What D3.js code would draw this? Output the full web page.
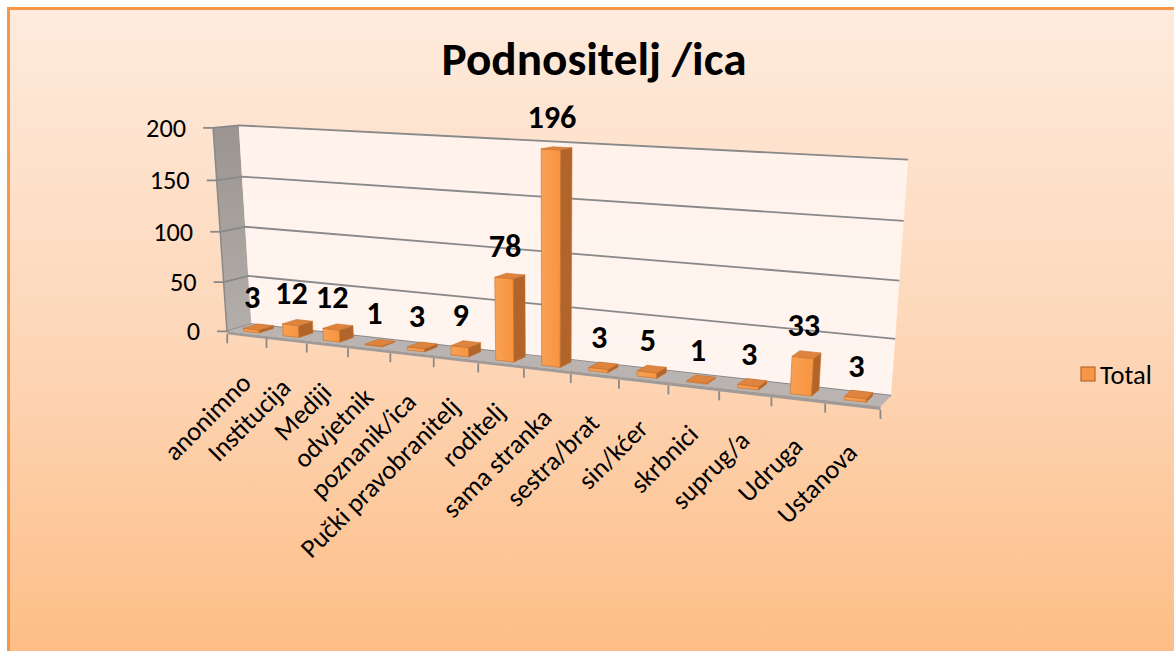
<!DOCTYPE html>
<html><head><meta charset="utf-8">
<script src="https://cdn.jsdelivr.net/npm/d3@7"></script>
<style>html,body{margin:0;padding:0;background:#fff;overflow:hidden}</style>
</head><body>
<svg id="c" width="1174" height="651"></svg>
<script>
// ---------------- data ----------------
const categories = ["anonimno","Institucija","Mediji","odvjetnik","poznanik/ica","Pučki pravobranitelj","roditelj","sama stranka","sestra/brat","sin/kćer","skrbnici","suprug/a","Udruga","Ustanova"];
const values = [3,12,12,1,3,9,78,196,3,5,1,3,33,3];
const yTicks = [0,50,100,150,200];
const seriesName = "Total";
const chartTitle = "Podnositelj /ica";

// ---------------- layout ----------------
const W = 1174, H = 651;
const FONT = "Carlito, Calibri, Lato, 'Open Sans', sans-serif";
// calibration of the 3D box frame: [X, Y, Z] (normalised) -> screen px
const frame = [
  [0,1,1, 240,124],[1,1,1, 908,160],[0,0,1, 252,324],[1,0,1, 889,397],
  [0,1,0, 212,129],[0,0,0, 227,332],[1,0,0, 884,405],[0.5,0,0, 522,365]
];
const CU=560, SU=400, CV=270, SV=200;

function fitCamera(pts){
  const n=11, M=Array.from({length:n},()=>new Array(n).fill(0)), r=new Array(n).fill(0);
  const add=(row,val)=>{for(let i=0;i<n;i++){r[i]+=row[i]*val;for(let j=0;j<n;j++)M[i][j]+=row[i]*row[j];}};
  pts.forEach(([X,Y,Z,u0,v0])=>{
    const u=(u0-CU)/SU, v=(v0-CV)/SV;
    add([X,Y,Z,1,0,0,0,0,-u*X,-u*Y,-u*Z],u);
    add([0,0,0,0,X,Y,Z,1,-v*X,-v*Y,-v*Z],v);
  });
  for(let c=0;c<n;c++){
    let p=c;for(let i=c+1;i<n;i++)if(Math.abs(M[i][c])>Math.abs(M[p][c]))p=i;
    [M[c],M[p]]=[M[p],M[c]];[r[c],r[p]]=[r[p],r[c]];
    for(let i=0;i<n;i++){if(i===c)continue;const f=M[i][c]/M[c][c];for(let j=c;j<n;j++)M[i][j]-=f*M[c][j];r[i]-=f*r[c];}
  }
  return r.map((v,i)=>v/M[i][i]);
}
const P = fitCamera(frame);
function proj(X,Y,Z){
  const d=P[8]*X+P[9]*Y+P[10]*Z+1;
  return [(P[0]*X+P[1]*Y+P[2]*Z+P[3])/d*SU+CU,(P[4]*X+P[5]*Y+P[6]*Z+P[7])/d*SV+CV];
}

const x = d3.scaleBand().domain(categories).range([0,1]).paddingInner(0.6).paddingOuter(0.3);
const y = d3.scaleLinear().domain([0,200]).range([0,1]);
const z0 = 0.2, z1 = 0.8, slab = 0.015;

const svg = d3.select("#c");
const defs = svg.append("defs");
const lg=(id,stops,x2,y2)=>{const g=defs.append("linearGradient").attr("id",id).attr("x1",0).attr("y1",0).attr("x2",x2).attr("y2",y2);stops.forEach(([o,c])=>g.append("stop").attr("offset",o).attr("stop-color",c));};
lg("bg",[["0%","#FEEBDD"],["55%","#FDD5B5"],["100%","#FDBD85"]],0,1);
lg("side",[["0%","#9B9591"],["100%","#B4AEAA"]],0,1);
lg("back",[["0%","#FFF2EB"],["100%","#FFF5F0"]],0,1);
lg("barF",[["0%","#F9A055"],["100%","#F7943F"]],1,0);

svg.append("rect").attr("x",8.5).attr("y",8.5).attr("width",W).attr("height",H)
  .attr("fill","url(#bg)").attr("stroke","#F79646").attr("stroke-width",3);

const line = d3.line();
const poly = pts => line(pts.map(p=>proj(...p)))+"Z";
const fitSize=(txt,weight,target)=>{const t=svg.append("text").attr("font-family",FONT).attr("font-weight",weight).attr("font-size",100).text(txt);const w=t.node().getComputedTextLength();t.remove();return 100*target/w;};
const titleSize = fitSize(chartTitle,"bold",305);
const dataSize = fitSize("196","bold",49);
const catSize = fitSize("Pučki pravobranitelj","normal",213);
const tickSize = fitSize("200","normal",40);

const g = svg.append("g");
// walls
g.append("path").attr("d",poly([[0,0,0],[0,1,0],[0,1,1],[0,0,1]])).attr("fill","url(#side)");
g.append("path").attr("d",poly([[0,0,1],[1,0,1],[1,1,1],[0,1,1]])).attr("fill","url(#back)");
// gridlines
yTicks.forEach(t=>{
  const v=y(t);
  g.append("path").attr("d",poly([[0,v,0],[0,v,1],[1,v,1]]).replace("Z",""))
    .attr("fill","none").attr("stroke","#898989").attr("stroke-width",1.8);
});
// floor
g.append("path").attr("d",poly([[0,0,0],[1,0,0],[1,0,1],[0,0,1]])).attr("fill","#B9B4B1");
g.append("path").attr("d",poly([[0,0,0],[1,0,0],[1,-slab,0],[0,-slab,0]])).attr("fill","#A09B98");
// value axis line + ticks
g.append("path").attr("d",poly([[0,0,0],[0,1,0]]).replace("Z","")).attr("stroke","#898989").attr("stroke-width",1.5).attr("fill","none");
yTicks.forEach(t=>{
  const p=proj(0,y(t),0);
  g.append("line").attr("x1",p[0]-10).attr("x2",p[0]).attr("y1",p[1]).attr("y2",p[1]).attr("stroke","#898989").attr("stroke-width",1.8);
  g.append("text").attr("x",p[0]-27).attr("y",p[1]+9).attr("text-anchor","end")
    .attr("font-family",FONT).attr("font-size",tickSize).attr("fill","#000").text(t);
});
// category ticks
const bounds = categories.map(c=>x(c)-x.step()*x.paddingOuter()).concat([1]);
bounds.forEach(b=>{
  const p=proj(b,-slab,0);
  g.append("line").attr("x1",p[0]).attr("x2",p[0]).attr("y1",p[1]).attr("y2",p[1]+9).attr("stroke","#898989").attr("stroke-width",1.8);
});
// bars
const bw = x.bandwidth();
categories.forEach((c,i)=>{
  const a=x(c), b=a+bw, h=y(values[i]);
  const bg=g.append("g").attr("stroke","#C8702C").attr("stroke-width",0.6).attr("stroke-linejoin","round");
  bg.append("path").attr("d",poly([[a,0,z0],[b,0,z0],[b,h,z0],[a,h,z0]])).attr("fill","url(#barF)");
  bg.append("path").attr("d",poly([[b,0,z0],[b,0,z1],[b,h,z1],[b,h,z0]])).attr("fill","#B2652B");
  bg.append("path").attr("d",poly([[a,h,z0],[b,h,z0],[b,h,z1],[a,h,z1]])).attr("fill","#DE843F");
  const p=proj(a+bw/2,h,z0);
  g.append("text").attr("x",p[0]+1).attr("y",p[1]-21).attr("text-anchor","middle")
    .attr("font-family",FONT).attr("font-weight","bold").attr("font-size",dataSize).attr("fill","#000").text(values[i]);
  const q=proj(a+bw/2,0,0);
  g.append("text").attr("transform",`translate(${q[0]+6},${q[1]+51}) rotate(-45)`).attr("text-anchor","end")
    .attr("font-family",FONT).attr("font-size",catSize).attr("fill","#000").text(c);
});
// title
svg.append("text").attr("x",594).attr("y",75).attr("text-anchor","middle")
  .attr("font-family",FONT).attr("font-weight","bold").attr("font-size",titleSize).attr("fill","#000").text(chartTitle);
// legend
const lgd=svg.append("g").attr("transform","translate(1081,367)");
lgd.append("rect").attr("width",14).attr("height",14).attr("fill","#F79646").attr("stroke","#B8672E").attr("stroke-width",1.2);
lgd.append("text").attr("x",19).attr("y",17).attr("font-family",FONT).attr("font-size",catSize).attr("fill","#000").text(seriesName);
</script>
</body></html>
